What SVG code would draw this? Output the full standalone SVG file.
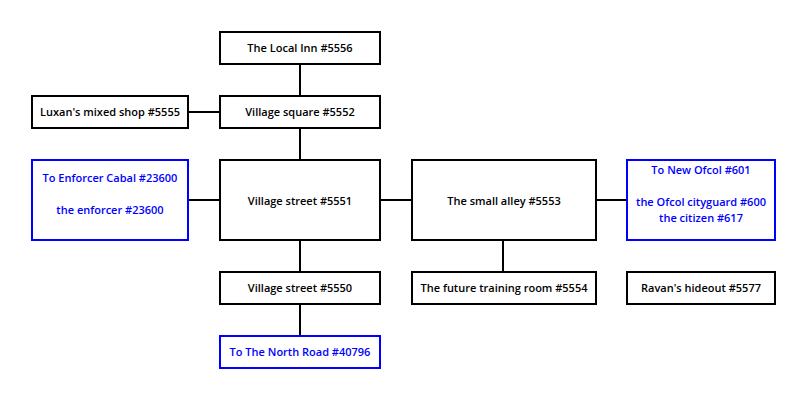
<svg xmlns="http://www.w3.org/2000/svg" width="806" height="400" viewBox="0 0 806 400">
<style>
rect{fill:#fff;stroke:#000;stroke-width:2}
rect.ext{stroke:#0000ff}
text{font-family:"Open Sans","Noto Sans",sans-serif;font-size:11px;font-weight:600;text-anchor:middle;fill:#000}
text.ext{fill:#0000ff}
#connectors line{stroke:#000;stroke-width:2}
</style>
<rect x="0" y="0" width="806" height="400" style="stroke:none;fill:#fff"/>
<g id="connectors">
<line x1="300" y1="64" x2="300" y2="96"/>
<line x1="188" y1="112" x2="220" y2="112"/>
<line x1="300" y1="128" x2="300" y2="160"/>
<line x1="188" y1="200" x2="220" y2="200"/>
<line x1="380" y1="200" x2="412" y2="200"/>
<line x1="596" y1="200" x2="627" y2="200"/>
<line x1="300" y1="240" x2="300" y2="272"/>
<line x1="503" y1="240" x2="503" y2="272"/>
<line x1="300" y1="304" x2="300" y2="336"/>
</g>
<g id="n5556"><rect x="220" y="32" width="160" height="32"/><text x="300" y="52">The Local Inn #5556</text></g>
<g id="n5555"><rect x="32" y="96" width="156" height="32"/><text x="110" y="116">Luxan's mixed shop #5555</text></g>
<g id="n5552"><rect x="220" y="96" width="160" height="32"/><text x="300" y="116">Village square #5552</text></g>
<g id="n23600"><rect class="ext" x="32" y="160" width="156" height="80"/><text class="ext" x="110" y="182">To Enforcer Cabal #23600</text><text class="ext" x="110" y="214">the enforcer #23600</text></g>
<g id="n5551"><rect x="220" y="160" width="160" height="80"/><text x="300" y="205">Village street #5551</text></g>
<g id="n5553"><rect x="412" y="160" width="184" height="80"/><text x="504" y="205">The small alley #5553</text></g>
<g id="n601"><rect class="ext" x="627" y="160" width="148" height="80"/><text class="ext" x="701" y="174">To New Ofcol #601</text><text class="ext" x="701" y="206">the Ofcol cityguard #600</text><text class="ext" x="701" y="222">the citizen #617</text></g>
<g id="n5550"><rect x="220" y="272" width="160" height="32"/><text x="300" y="292">Village street #5550</text></g>
<g id="n5554"><rect x="412" y="272" width="184" height="32"/><text x="504" y="292">The future training room #5554</text></g>
<g id="n5577"><rect x="627" y="272" width="148" height="32"/><text x="701" y="292">Ravan's hideout #5577</text></g>
<g id="n40796"><rect class="ext" x="220" y="336" width="160" height="32"/><text class="ext" x="300" y="356">To The North Road #40796</text></g>
</svg>
